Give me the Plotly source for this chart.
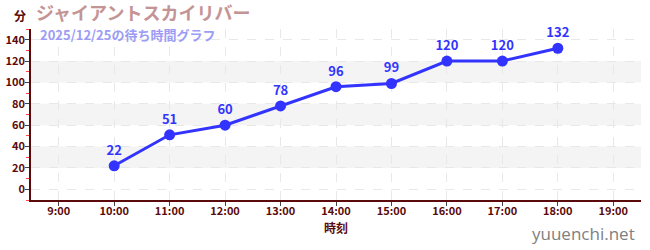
import plotly.graph_objects as go

hours = [10, 11, 12, 13, 14, 15, 16, 17, 18]
waits = [22, 51, 60, 78, 96, 99, 120, 120, 132]
tick_vals = [9, 10, 11, 12, 13, 14, 15, 16, 17, 18, 19]
tick_text = [f"{h}:00" for h in tick_vals]
y_ticks = [0, 20, 40, 60, 80, 100, 120, 140]
bands = [(20, 40), (60, 80), (100, 120)]

FONT = "Noto Sans CJK JP"
AX = "#5a0a0a"

fig = go.Figure()
fig.add_trace(go.Scatter(
    x=hours, y=waits, mode="lines+markers+text",
    line=dict(color="#3333ff", width=3),
    marker=dict(color="#3333ff", size=11),
    text=[str(v) for v in waits], textposition="top center",
    textfont=dict(color="#3333ff", size=13, family=FONT, weight="bold"),
    cliponaxis=False, hoverinfo="skip",
))
for y0, y1 in bands:
    fig.add_shape(type="rect", xref="paper", yref="y", x0=0, x1=1, y0=y0, y1=y1,
                  fillcolor="#f4f4f4", line_width=0, layer="below")

fig.update_layout(
    width=650, height=250,
    margin=dict(l=31, r=9, t=29, b=50, autoexpand=False),
    paper_bgcolor="white", plot_bgcolor="white",
    showlegend=False,
    font=dict(family=FONT, color=AX),
    xaxis=dict(
        range=[8.5, 19.5], tickvals=tick_vals, ticktext=tick_text,
        tickfont=dict(size=11, color=AX, weight="bold"),
        showline=True, linecolor=AX, linewidth=1.5,
        ticks="outside", ticklen=4, tickcolor="#444",
        ticklabelstandoff=-4, automargin=False,
        showgrid=True, gridcolor="#e8e8e8", griddash="dash", gridwidth=1,
        zeroline=False,
        title=dict(text="時刻", font=dict(size=12, color=AX, weight="bold"), standoff=8),
    ),
    yaxis=dict(
        range=[-10, 150], tickvals=y_ticks,
        tickfont=dict(size=11, color=AX, weight="bold"),
        showline=True, linecolor=AX, linewidth=1.5,
        ticks="outside", ticklen=4, tickcolor="#444",
        ticklabelstandoff=-2, automargin=False,
        minor=dict(dtick=10, tick0=0, ticks="outside", ticklen=3, tickcolor="#ff4444", showgrid=False),
        showgrid=True, gridcolor="#e8e8e8", griddash="dash", gridwidth=1,
        zeroline=False,
    ),
    annotations=[
        dict(text="分", xref="paper", yref="paper", x=0, y=1, xanchor="center", yanchor="middle",
             xshift=-11, yshift=14, showarrow=False, font=dict(size=12, color=AX, weight="bold")),
        dict(text="ジャイアントスカイリバー", xref="paper", yref="paper", x=0, y=1, xanchor="left", yanchor="middle",
             xshift=3, yshift=17, showarrow=False, font=dict(size=18, color="#c49494", weight="bold")),
        dict(text="2025/12/25の待ち時間グラフ", xref="paper", yref="paper", x=0, y=1, xanchor="left", yanchor="middle",
             xshift=7, yshift=-5, showarrow=False, font=dict(size=13, color="#9c9cf5", weight="bold")),
        dict(text="yuuenchi.net", xref="paper", yref="paper", x=1, y=0, xanchor="right", yanchor="middle",
             yshift=-33, xshift=-4, showarrow=False, font=dict(size=17, color="#808080", family="Open Sans")),
    ],
)

fig.write_html("out.html")
